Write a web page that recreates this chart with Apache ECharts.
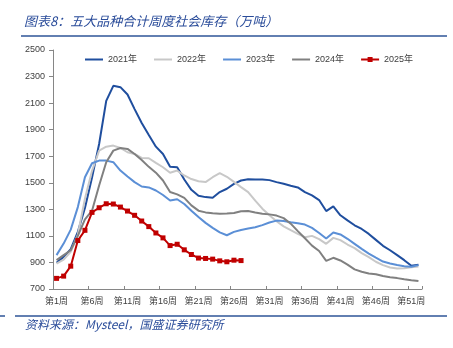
<!DOCTYPE html>
<html>
<head>
<meta charset="utf-8">
<script src="https://cdn.jsdelivr.net/npm/echarts@6/dist/echarts.min.js"></script>
<style>
  html, body { margin: 0; padding: 0; background: #fff; }
  #chart { width: 453px; height: 348px; }
</style>
</head>
<body>
<div id="chart"></div>
<script>
// Weekly social inventory of five major steel products (10k tonnes)
const weeks = [
  '第1周','第2周','第3周','第4周','第5周','第6周','第7周','第8周','第9周','第10周',
  '第11周','第12周','第13周','第14周','第15周','第16周','第17周','第18周','第19周','第20周',
  '第21周','第22周','第23周','第24周','第25周','第26周','第27周','第28周','第29周','第30周',
  '第31周','第32周','第33周','第34周','第35周','第36周','第37周','第38周','第39周','第40周',
  '第41周','第42周','第43周','第44周','第45周','第46周','第47周','第48周','第49周','第50周',
  '第51周','第52周'
];

const stock2021 = [
  897, 942, 1000, 1130, 1310, 1540, 1792, 2117, 2230, 2220,
  2165, 2055, 1950, 1860, 1772, 1717, 1620, 1617, 1525, 1447,
  1402, 1392, 1387, 1430, 1455, 1492, 1517, 1527, 1525, 1525,
  1520, 1505, 1492, 1478, 1465, 1430, 1405, 1370, 1287, 1322,
  1255, 1217, 1180, 1152, 1115, 1070, 1025, 992, 955, 917,
  875, 882
];
const stock2022 = [
  892, 922, 980, 1110, 1380, 1590, 1742, 1772, 1780, 1762,
  1730, 1717, 1687, 1685, 1650, 1617, 1576, 1592, 1555, 1528,
  1512, 1505, 1542, 1572, 1545, 1507, 1467, 1430, 1365, 1305,
  1255, 1210, 1172, 1143, 1115, 1090, 1100, 1075, 1040, 1085,
  1068, 1035, 1008, 970, 940, 905, 880, 862, 855, 857,
  863, 870
];
const stock2023 = [
  955, 1042, 1147, 1317, 1542, 1647, 1667, 1667, 1655, 1592,
  1547, 1505, 1472, 1465, 1442, 1408, 1367, 1376, 1340, 1290,
  1242, 1198, 1160, 1126, 1105, 1130, 1145, 1155, 1165, 1181,
  1201, 1215, 1212, 1203, 1195, 1185, 1160, 1122, 1080, 1125,
  1111, 1078, 1040, 1002, 967, 936, 907, 892, 880, 872,
  867, 880
];
const stock2024 = [
  917, 955, 992, 1100, 1225, 1290, 1480, 1655, 1742, 1762,
  1755, 1717, 1672, 1620, 1576, 1517, 1430, 1413, 1386, 1330,
  1290, 1277, 1271, 1267, 1269, 1273, 1286, 1287, 1276, 1267,
  1262, 1253, 1234, 1192, 1136, 1082, 1027, 986, 912, 935,
  915, 884, 848, 830, 817, 811, 798, 788, 782, 773,
  766, 760
];
const stock2025 = [
  780, 797, 872, 1065, 1142, 1277, 1312, 1342, 1340, 1317,
  1287, 1255, 1212, 1170, 1122, 1085, 1027, 1037, 995, 960,
  933, 930, 925, 912, 905, 917, 914
];

const yMin = 700, yMax = 2500, yStep = 200;

const FONT = '"Liberation Sans", "Noto Sans CJK SC", sans-serif';
const CJK = '"Noto Sans CJK SC", sans-serif';
// legend keys: a plain stroke, and a stroke with a small square for the marked line
const LINE_ICON = 'path://M0,0h18v2h-18z';
const MARKED_LINE_ICON = 'path://M0,2h6.5v-1.5h5v1.5h6.5v2h-6.5v1.5h-5v-1.5h-6.5z';

function lineSeries(name, data, color, extra) {
  return Object.assign({
    name: name,
    type: 'line',
    data: data,
    symbol: 'none',
    smooth: false,
    animation: false,
    lineStyle: { color: color, width: 2 },
    itemStyle: { color: color }
  }, extra || {});
}

const chart = echarts.init(document.getElementById('chart'), null, { renderer: 'canvas' });

chart.setOption({
  backgroundColor: '#ffffff',
  animation: false,
  grid: { left: 53, right: 31, top: 50, bottom: 59, containLabel: false },
  legend: {
    left: 80,
    top: 50,
    itemWidth: 18,
    itemHeight: 10,
    itemGap: 17,
    textStyle: { fontSize: 9, color: '#404040', fontFamily: FONT },
    data: [
      { name: '2021年', icon: LINE_ICON },
      { name: '2022年', icon: LINE_ICON },
      { name: '2023年', icon: LINE_ICON },
      { name: '2024年', icon: LINE_ICON },
      { name: '2025年', icon: MARKED_LINE_ICON }
    ]
  },
  xAxis: {
    type: 'category',
    data: weeks,
    boundaryGap: true,
    axisLine: { lineStyle: { color: '#868686', width: 1 } },
    axisTick: { show: true, inside: true, length: 3, interval: 4, lineStyle: { color: '#868686' } },
    axisLabel: { interval: 4, fontSize: 9, color: '#404040', fontFamily: FONT, margin: 8 },
    splitLine: { show: false }
  },
  yAxis: {
    type: 'value',
    min: yMin,
    max: yMax,
    interval: yStep,
    axisLine: { show: true, lineStyle: { color: '#868686', width: 1 } },
    axisTick: { show: true, inside: false, length: 4, lineStyle: { color: '#868686' } },
    axisLabel: {
      fontSize: 9, color: '#404040', fontFamily: FONT, margin: 8,
      formatter: function (v) { return String(v); }
    },
    splitLine: { show: false }
  },
  series: [
    lineSeries('2021年', stock2021, '#1F4E9E'),
    lineSeries('2022年', stock2022, '#C8C8C8'),
    lineSeries('2023年', stock2023, '#5B8FD6'),
    lineSeries('2024年', stock2024, '#808080'),
    lineSeries('2025年', stock2025, '#C00000', {
      symbol: 'rect',
      symbolSize: 5,
      showSymbol: true,
      showAllSymbol: true,
      lineStyle: { color: '#C00000', width: 2 },
      itemStyle: { color: '#C00000' }
    })
  ],
  graphic: [
    {
      type: 'text',
      left: 24,
      top: 15,
      style: {
        text: '图表8：五大品种合计周度社会库存（万吨）',
        font: 'italic 13px ' + CJK,
        fill: '#2A4C9A'
      }
    },
    {
      type: 'line',
      shape: { x1: 21, y1: 36, x2: 447, y2: 36 },
      style: { stroke: '#2E5597', lineWidth: 1.5 }
    },
    {
      type: 'line',
      shape: { x1: 15, y1: 316, x2: 447, y2: 316 },
      style: { stroke: '#2E5597', lineWidth: 1.5 }
    },
    {
      type: 'line',
      shape: { x1: 0, y1: 316, x2: 5, y2: 316 },
      style: { stroke: '#2E5597', lineWidth: 1.5 }
    },
    {
      type: 'text',
      left: 25,
      top: 318,
      style: {
        text: '资料来源：Mysteel，国盛证券研究所',
        font: 'italic 12px ' + CJK,
        fill: '#2A4C9A'
      }
    }
  ]
});
</script>
</body>
</html>
